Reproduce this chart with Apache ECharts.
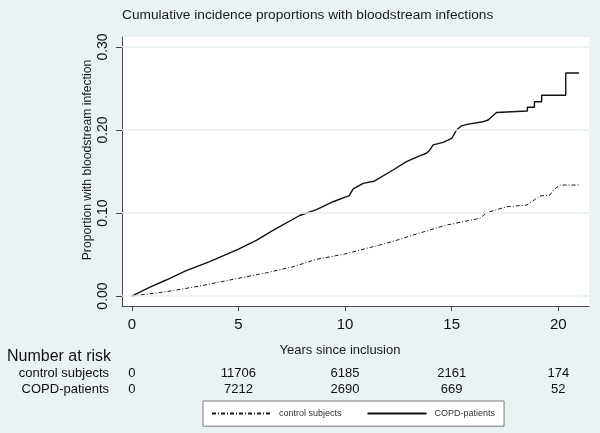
<!DOCTYPE html>
<html>
<head>
<meta charset="utf-8">
<script src="https://cdn.jsdelivr.net/npm/echarts@6/dist/echarts.min.js"></script>
<style>
html,body{margin:0;padding:0;background:#eaf2f3;}
#c{width:600px;height:433px;}
</style>
</head>
<body>
<div id="c"></div>
<script>
// ---- data ----
var titleText = 'Cumulative incidence proportions with bloodstream infections';
var yTitle = 'Proportion with bloodstream infection';
var xTitle = 'Years since inclusion';
var seriesNames = ['control subjects', 'COPD-patients'];
var xTicks = [0, 5, 10, 15, 20];
var yTicks = [0, 0.1, 0.2, 0.3];
var riskControl = [0, 11706, 6185, 2161, 174];
var riskCOPD = [0, 7212, 2690, 669, 52];

var copdT = [0, 0.83, 1.61, 2.55, 3.65, 4.98, 5.84, 6.62, 7.87, 8.66, 9.44, 10.07, 10.2, 10.38, 10.85, 11.39, 12.25, 12.88, 13.5, 13.82, 13.98, 14.13, 14.6, 15.0, 15.23, 15.46, 15.77, 16.48, 16.71, 17.1, 17.14, 18.55, 18.55, 18.88, 18.88, 19.22, 19.22, 20.35, 20.35, 20.97];
var copdV = [0, 0.0104, 0.0193, 0.0305, 0.0414, 0.0562, 0.067, 0.079, 0.097, 0.104, 0.1136, 0.1197, 0.121, 0.129, 0.1357, 0.1386, 0.1518, 0.162, 0.1687, 0.172, 0.176, 0.182, 0.185, 0.19, 0.2, 0.205, 0.207, 0.21, 0.212, 0.221, 0.2229, 0.2229, 0.2273, 0.2273, 0.234, 0.234, 0.2418, 0.2418, 0.2687, 0.2687];

var ctrlT = [0, 1.61, 3.18, 4.98, 6.31, 7.56, 8.66, 9.99, 11.0, 11.63, 12.57, 13.19, 14.76, 16.32, 16.64, 17.58, 18.52, 19.14, 19.61, 19.77, 20.08, 21.02];
var ctrlV = [0, 0.0052, 0.012, 0.0213, 0.028, 0.0353, 0.0442, 0.0506, 0.0574, 0.0614, 0.0683, 0.0735, 0.0855, 0.0936, 0.1004, 0.1076, 0.1096, 0.1205, 0.1217, 0.1277, 0.1337, 0.1337];

function pairs(t, v) { return t.map(function (x, i) { return [x, v[i]]; }); }

var FONT = "'Liberation Sans', Arial, sans-serif";
var chart = echarts.init(document.getElementById('c'), null, { renderer: 'canvas' });

function riskAxis(arr, margin) {
  return {
    type: 'value', gridIndex: 0, min: -0.46, max: 21.44, position: 'bottom',
    axisLine: { show: false }, axisTick: { show: false }, splitLine: { show: false },
    axisLabel: {
      customValues: xTicks, margin: margin, fontSize: 13, color: '#111', fontFamily: FONT,
      formatter: function (v) { var i = xTicks.indexOf(v); return i >= 0 ? String(arr[i]) : ''; }
    }
  };
}

chart.setOption({
  backgroundColor: '#eaf2f3',
  animation: false,
  title: {
    text: titleText, left: 122, top: 8, padding: 0,
    textStyle: { fontSize: 13.7, fontWeight: 'normal', color: '#1a1a1a', fontFamily: FONT }
  },
  grid: { left: 122, right: 11, top: 37, bottom: 127, show: true, backgroundColor: '#ffffff', borderWidth: 0 },
  legend: {
    data: seriesNames, left: 203, top: 401, padding: [7, 9, 7, 8], itemWidth: 59, itemHeight: 14, itemGap: 25,
    backgroundColor: '#ffffff', borderColor: '#7a7a7a', borderWidth: 1, borderRadius: 0,
    itemStyle: { color: 'rgba(0,0,0,0)', borderColor: 'rgba(0,0,0,0)', borderWidth: 0 },
    textStyle: { fontSize: 9, color: '#333', fontFamily: FONT, padding: [0, 0, 0, 3] }
  },
  xAxis: [
    {
      type: 'value', min: -0.46, max: 21.44, position: 'bottom',
      axisLine: { show: true, onZero: false, lineStyle: { color: '#4a4a4a', width: 1 } },
      axisTick: { show: true, customValues: xTicks, length: 5, lineStyle: { color: '#4a4a4a' } },
      axisLabel: { customValues: xTicks, margin: 11, fontSize: 15, color: '#111', fontFamily: FONT },
      splitLine: { show: false }
    },
    riskAxis(riskControl, 61),
    riskAxis(riskCOPD, 77)
  ],
  yAxis: {
    type: 'value', min: -0.012, max: 0.312,
    axisLine: { show: true, onZero: false, lineStyle: { color: '#4a4a4a', width: 1 } },
    axisTick: { show: true, customValues: yTicks, length: 6, lineStyle: { color: '#4a4a4a' } },
    axisLabel: {
      customValues: yTicks, rotate: 90, margin: 12, fontSize: 14, color: '#111', fontFamily: FONT,
      formatter: function (v) { return v.toFixed(2); }
    },
    splitLine: { show: false }
  },
  graphic: [
    { type: 'text', x: 88, y: 160, rotation: Math.PI / 2,
      style: { text: yTitle, font: '12.2px ' + FONT, fill: '#1a1a1a', textAlign: 'center', textVerticalAlign: 'middle' } },
    { type: 'text', x: 340, y: 350,
      style: { text: xTitle, font: '13px ' + FONT, fill: '#1a1a1a', textAlign: 'center', textVerticalAlign: 'middle' } },
    { type: 'text', x: 7, y: 357,
      style: { text: 'Number at risk', font: '16px ' + FONT, fill: '#111', textAlign: 'left', textVerticalAlign: 'middle' } },
    { type: 'text', x: 109, y: 373,
      style: { text: seriesNames[0], font: '13px ' + FONT, fill: '#111', textAlign: 'right', textVerticalAlign: 'middle' } },
    { type: 'text', x: 109, y: 389,
      style: { text: seriesNames[1], font: '13px ' + FONT, fill: '#111', textAlign: 'right', textVerticalAlign: 'middle' } }
  ],
  series: [
    {
      name: 'grid', type: 'line', data: [], z: 1, silent: true,
      markLine: {
        silent: true, symbol: 'none', label: { show: false },
        lineStyle: { color: '#e4eef0', width: 1.5, type: 'solid' },
        data: yTicks.map(function (v) { return { yAxis: v }; })
      }
    },
    {
      name: seriesNames[0], type: 'line', data: pairs(ctrlT, ctrlV), showSymbol: false, symbol: 'none', z: 3,
      lineStyle: { color: '#1a1a1a', width: 1, type: [4, 2, 1, 2] }, itemStyle: { color: '#1a1a1a' }
    },
    {
      name: seriesNames[1], type: 'line', data: pairs(copdT, copdV), showSymbol: false, symbol: 'none', z: 3,
      lineStyle: { color: '#111', width: 1.4, type: 'solid' }, itemStyle: { color: '#111' }
    }
  ]
});
</script>
</body>
</html>
